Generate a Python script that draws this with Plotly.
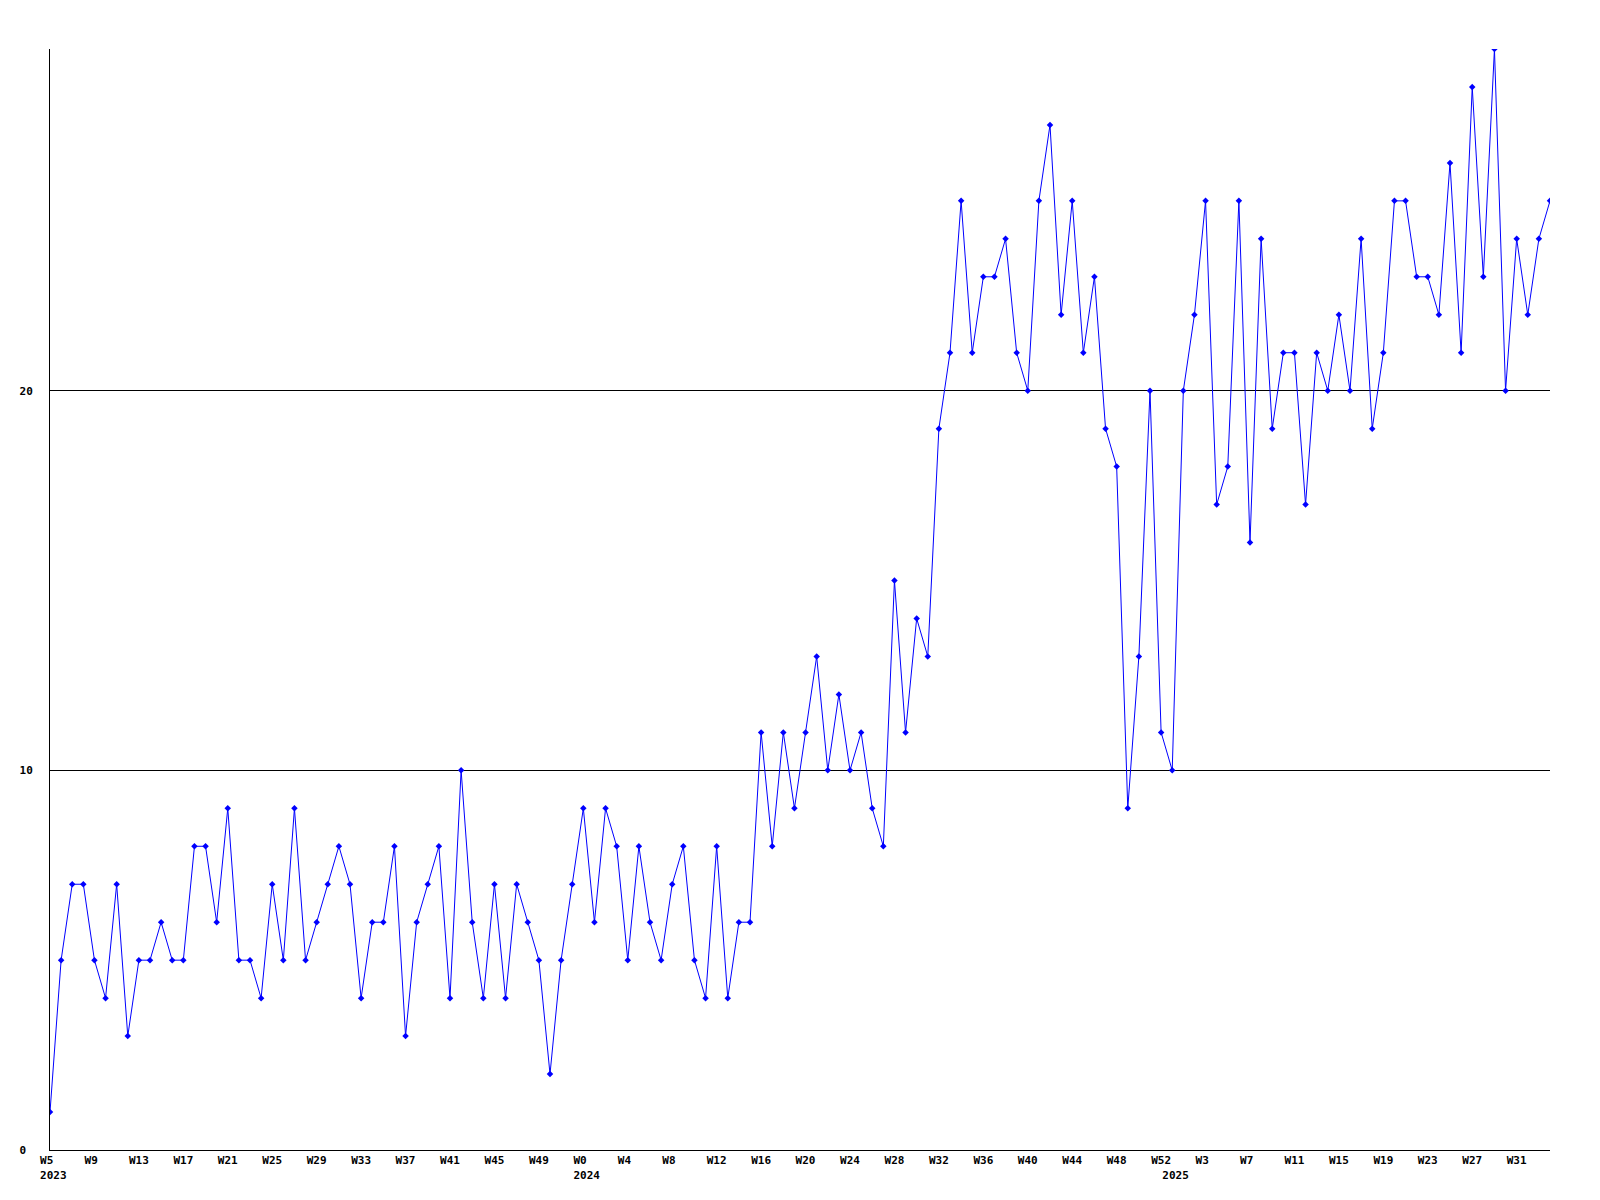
import plotly.graph_objects as go

# ---- data (weekly counts) ----
weeks_2023 = list(range(5, 53))          # W5 .. W52
values_2023 = [1, 5, 7, 7, 5, 4, 7, 3, 5, 5, 6, 5, 5, 8, 8, 6, 9, 5, 5, 4, 7, 5, 9, 5,
               6, 7, 8, 7, 4, 6, 6, 8, 3, 6, 7, 8, 4, 10, 6, 4, 7, 4, 7, 6, 5, 2, 5, 7]

weeks_2024 = list(range(0, 53))          # W0 .. W52
values_2024 = [9, 6, 9, 8, 5, 8, 6, 5, 7, 8, 5, 4, 8, 4, 6, 6, 11, 8, 11, 9, 11, 13, 10, 12,
               10, 11, 9, 8, 15, 11, 14, 13, 19, 21, 25, 21, 23, 23, 24, 21, 20, 25, 27, 22,
               25, 21, 23, 19, 18, 9, 13, 20, 11]

weeks_2025 = list(range(0, 35))          # W0 .. W34
values_2025 = [10, 20, 22, 25, 17, 18, 25, 16, 24, 19, 21, 21, 17, 21, 20, 22, 20, 24, 19,
               21, 25, 25, 23, 23, 22, 26, 21, 28, 23, 29, 20, 24, 22, 24, 25]

years = ["2023", "2024", "2025"]
y_ticks = [0, 10, 20]
y_max = 29

# ---- build series ----
week_labels = []
year_of_point = []
values = []
for yr, wks, vals in zip(years, [weeks_2023, weeks_2024, weeks_2025],
                         [values_2023, values_2024, values_2025]):
    for w, v in zip(wks, vals):
        week_labels.append(f"W{w}")
        year_of_point.append(yr)
        values.append(v)

idx = list(range(len(values)))

NB = "\u00a0"
# ticks every 4 weeks, plus the first week of each year (year label)
tickvals = []
ticktext = []
first_of_year = {}
for i, yr in enumerate(year_of_point):
    if yr not in first_of_year:
        first_of_year[yr] = i
for i in idx:
    lab_week = None
    if i % 4 == 0:
        w = week_labels[i]
        lab_week = w + NB * (3 - len(w))
    lab_year = None
    if first_of_year.get(year_of_point[i]) == i:
        lab_year = NB + year_of_point[i]
    if lab_week is None and lab_year is None:
        continue
    tickvals.append(i)
    ticktext.append((lab_week or NB) + ("<br>" + lab_year if lab_year else ""))

fig = go.Figure()
fig.add_trace(go.Scatter(
    x=idx, y=values, mode="lines+markers",
    line=dict(color="#0000ff", width=1),
    marker=dict(symbol="diamond", size=5, color="#0000ff"),
    hoverinfo="skip",
))

font = dict(family="DejaVu Sans Mono", size=11, color="black", weight="bold")

# page body has an 8px default margin; size the figure so the page is 1600x1200
fig.update_layout(
    width=1592, height=1192,
    margin=dict(l=42, r=50, t=41, b=50),
    paper_bgcolor="white", plot_bgcolor="white",
    showlegend=False,
    xaxis=dict(
        range=[0, len(values) - 1],
        tickmode="array", tickvals=tickvals, ticktext=ticktext,
        tickangle=0, ticks="", showgrid=False, zeroline=False,
        showline=True, linecolor="black", linewidth=1,
        tickfont=font,
    ),
    yaxis=dict(
        range=[0, y_max],
        tickmode="array", tickvals=y_ticks,
        ticktext=[f"{t}".ljust(2, NB) for t in y_ticks],
        ticks="", showgrid=True, gridcolor="black", gridwidth=1,
        zeroline=False, showline=True, linecolor="black", linewidth=1,
        tickfont=font, ticklabelstandoff=14,
    ),
)

fig.write_html("out.html")
